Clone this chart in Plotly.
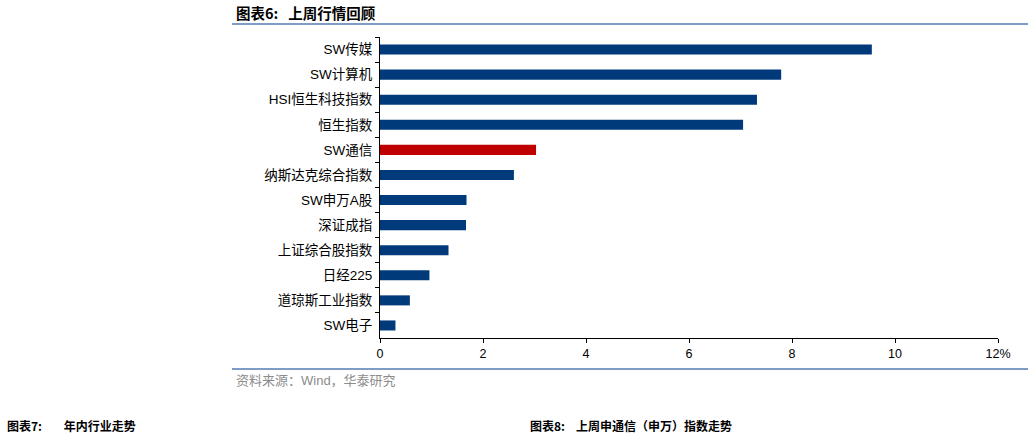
import plotly.graph_objects as go

categories = ["SW传媒", "SW计算机", "HSI恒生科技指数", "恒生指数", "SW通信",
              "纳斯达克综合指数", "SW申万A股", "深证成指", "上证综合股指数",
              "日经225", "道琼斯工业指数", "SW电子"]
values = [9.55, 7.79, 7.32, 7.05, 3.03, 2.60, 1.68, 1.67, 1.33, 0.96, 0.58, 0.30]
highlight = "SW通信"
x_tickvals = [0, 2, 4, 6, 8, 10, 12]
x_ticktext = ["0", "2", "4", "6", "8", "10", "12%"]

BLUE = "#003A7A"
RED = "#C00000"
colors = [RED if c == highlight else BLUE for c in categories]

W, H = 1028, 433
L, R, T, B = 380, 998, 37, 338

def px(x):
    return (x - L) / (R - L)

def py(y):
    return (B - y) / (B - T)

FONT = "Arial, Liberation Sans, Noto Sans CJK SC, sans-serif"
NB = "\u00a0"

fig = go.Figure(go.Bar(
    x=values, y=categories, orientation="h",
    marker=dict(color=colors, line=dict(width=0)),
    hoverinfo="x+y",
))

fig.update_layout(
    width=W, height=H,
    margin=dict(l=L, r=W - R, t=T, b=H - B, pad=0),
    paper_bgcolor="white", plot_bgcolor="white",
    bargap=0.6, showlegend=False,
    font=dict(family=FONT, size=12, color="#000000"),
    xaxis=dict(range=[0, 12], tickvals=x_tickvals, ticktext=x_ticktext,
               showgrid=False, zeroline=False, showline=True, linecolor="#000000",
               linewidth=1, ticks="outside", ticklen=4, tickcolor="#000000",
               tickfont=dict(size=12.5, color="#000000"), fixedrange=True),
    yaxis=dict(autorange="reversed", showgrid=False, zeroline=False,
               showline=True, linecolor="#000000", linewidth=1,
               ticks="outside", tickson="boundaries", ticklen=4, tickcolor="#000000",
               tickfont=dict(size=13.5, color="#000000"), ticklabelstandoff=4,
               fixedrange=True),
    shapes=[
        dict(type="line", xref="paper", yref="paper", x0=px(232), x1=px(1028),
             y0=py(24), y1=py(24), line=dict(color="#7F9CC6", width=2)),
        dict(type="line", xref="paper", yref="paper", x0=px(232), x1=px(1028),
             y0=py(369), y1=py(369), line=dict(color="#7F9CC6", width=2)),
    ],
    annotations=[
        dict(text="<b>图表6:" + NB * 3 + "上周行情回顾</b>", xref="paper", yref="paper",
             x=px(234), y=py(13), xanchor="left", yanchor="middle", showarrow=False,
             font=dict(family="Noto Sans CJK SC, Arial", size=14.5, color="#000000")),
        dict(text="资料来源：Wind，华泰研究", xref="paper", yref="paper",
             x=px(234), y=py(380), xanchor="left", yanchor="middle", showarrow=False,
             font=dict(family=FONT, size=13, color="#8C8C8C")),
        dict(text="<b>图表7:" + NB * 8 + "年内行业走势</b>", xref="paper", yref="paper",
             x=px(5), y=py(425), xanchor="left", yanchor="middle", showarrow=False,
             font=dict(family="Noto Sans CJK SC, Arial", size=12, color="#000000")),
        dict(text="<b>图表8:" + NB * 4 + "上周申通信（申万）指数走势</b>", xref="paper", yref="paper",
             x=px(528), y=py(425), xanchor="left", yanchor="middle", showarrow=False,
             font=dict(family="Noto Sans CJK SC, Arial", size=12, color="#000000")),
    ],
)

fig.write_html("out.html")
